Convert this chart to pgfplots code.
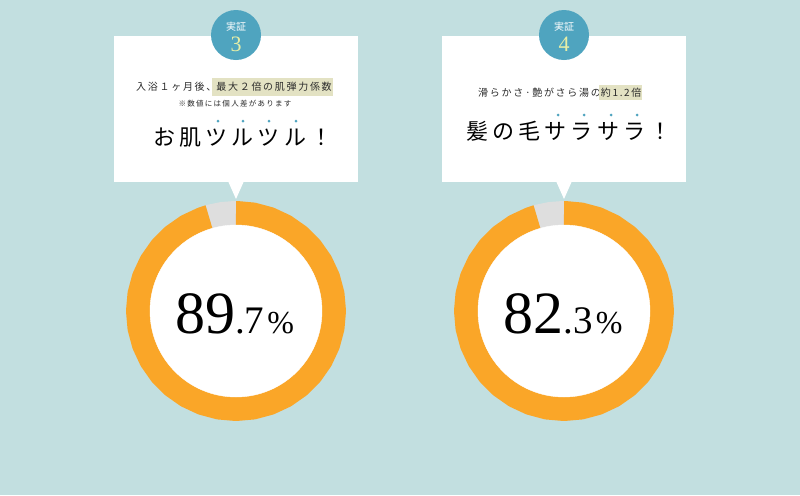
\documentclass[border=0pt]{standalone}
\usepackage{pgfplots}
\pgfplotsset{compat=1.18}
\usepgfplotslibrary{polar}
\usepackage{fontspec}
\setmainfont{Liberation Serif}
\newfontfamily\jp{Noto Sans CJK JP}
\newfontfamily\jpA[LetterSpace=17]{Noto Sans CJK JP}
\newfontfamily\jpB[LetterSpace=19]{Noto Sans CJK JP}
\newfontfamily\num{Liberation Serif}
\definecolor{bgc}{HTML}{C2DFE0}
\definecolor{ring}{HTML}{FAA628}
\definecolor{gap}{HTML}{DEDEDE}
\definecolor{badge}{HTML}{4FA4BF}
\definecolor{hl}{HTML}{E3E2C3}
\definecolor{txt}{HTML}{2B2B2B}
\definecolor{digit}{HTML}{E6EEA6}
\newcommand\hlA[1]{{\setlength\fboxsep{0pt}\kern-4pt\colorbox{hl}{\rule[-5pt]{0pt}{18pt}\hspace{4pt}#1\hspace{1pt}}}}
\newcommand\hlB[1]{{\setlength\fboxsep{0pt}\kern-1.5pt\colorbox{hl}{\rule[-3.5pt]{0pt}{15pt}\hspace{1.5pt}#1\hspace{1pt}}}}
\begin{document}
\begin{tikzpicture}
\begin{axis}[name=bg, at={(0,0)}, anchor=north west, width=800pt, height=495pt, scale only axis,
  xmin=0, xmax=800, ymin=0, ymax=495, y dir=reverse, hide axis, clip=false]
\fill[bgc] (axis cs:0,0) rectangle (axis cs:800,495);
% callout boxes
\fill[white] (axis cs:114,36) rectangle (axis cs:358,182);
\fill[white] (axis cs:228,181) -- (axis cs:244,181) -- (axis cs:236,199) -- cycle;
\fill[white] (axis cs:442,36) rectangle (axis cs:686,182);
\fill[white] (axis cs:556,181) -- (axis cs:572,181) -- (axis cs:564,199) -- cycle;
% badges
\fill[badge] (axis cs:236,35) circle[radius=25pt];
\fill[badge] (axis cs:564,35) circle[radius=25pt];
\node[text=white, inner sep=0, font=\jp\fontsize{10pt}{12pt}\selectfont] at (axis cs:236,27) {実証};
\node[text=digit, inner sep=0, font=\num\fontsize{22pt}{22pt}\selectfont] at (axis cs:236,44) {3};
\node[text=white, inner sep=0, font=\jp\fontsize{10pt}{12pt}\selectfont] at (axis cs:564,27) {実証};
\node[text=digit, inner sep=0, font=\num\fontsize{22pt}{22pt}\selectfont] at (axis cs:564,44) {4};
% left texts
\node[anchor=west, inner sep=0, text=txt, font=\jpA\fontsize{10pt}{12pt}\selectfont] at (axis cs:136,86.5) {入浴１ヶ月後、\hlA{最大２倍の肌弾力係数}};
\node[inner sep=0, text=txt, font=\jpA\fontsize{7.5pt}{9pt}\selectfont] at (axis cs:235,103.5) {※数値には個人差があります};
\fill[badge] (axis cs:218,121) circle[radius=1.5pt];
\fill[badge] (axis cs:243,121) circle[radius=1.5pt];
\fill[badge] (axis cs:269,121) circle[radius=1.5pt];
\fill[badge] (axis cs:296,121) circle[radius=1.5pt];
\node[anchor=west, inner sep=0, text=black, font=\jpB\fontsize{22pt}{24pt}\selectfont] at (axis cs:153,138) {お肌ツルツル！};
% right texts
\node[anchor=west, inner sep=0, text=txt, font=\jpA\fontsize{10pt}{12pt}\selectfont] at (axis cs:478,92) {滑らかさ·艶がさら湯の\hlB{約1.2倍}};
\fill[badge] (axis cs:558,115) circle[radius=1.5pt];
\fill[badge] (axis cs:584,115) circle[radius=1.5pt];
\fill[badge] (axis cs:611,115) circle[radius=1.5pt];
\fill[badge] (axis cs:637,115) circle[radius=1.5pt];
\node[anchor=west, inner sep=0, text=black, font=\jpB\fontsize{22pt}{24pt}\selectfont] at (axis cs:466,131) {髪の毛サラサラ！};
\end{axis}

% left donut
\begin{polaraxis}[at={(236pt,-311pt)}, anchor=center, scale only axis, width=220pt, height=220pt,
  xmin=0, xmax=360, ymin=0, ymax=110, hide axis, clip=false]
\addplot[white, only marks, mark=*, mark size=86pt, mark options={draw=white, fill=white}] coordinates {(0,0)};
\addplot[gap, line width=25pt, line cap=butt, line join=round, no marks] coordinates {(90,97.5) (90.5,97.5) (98,97.5) (105.5,97.5) (106,97.5)};
\addplot[ring, line width=25pt, line cap=butt, line join=round, no marks] coordinates {
(90,97.5) (89.5,97.5) (80,97.5) (70,97.5) (60,97.5) (50,97.5) (40,97.5) (30,97.5) (20,97.5) (10,97.5) (0,97.5)
(-10,97.5) (-20,97.5) (-30,97.5) (-40,97.5) (-50,97.5) (-60,97.5) (-70,97.5) (-80,97.5) (-90,97.5)
(-100,97.5) (-110,97.5) (-120,97.5) (-130,97.5) (-140,97.5) (-150,97.5) (-160,97.5) (-170,97.5) (-180,97.5)
(-190,97.5) (-200,97.5) (-210,97.5) (-220,97.5) (-230,97.5) (-240,97.5) (-250,97.5) (-253.5,97.5) (-254,97.5)};
\end{polaraxis}

% right donut
\begin{polaraxis}[at={(564pt,-311pt)}, anchor=center, scale only axis, width=220pt, height=220pt,
  xmin=0, xmax=360, ymin=0, ymax=110, hide axis, clip=false]
\addplot[white, only marks, mark=*, mark size=86pt, mark options={draw=white, fill=white}] coordinates {(0,0)};
\addplot[gap, line width=25pt, line cap=butt, line join=round, no marks] coordinates {(90,97.5) (90.5,97.5) (98,97.5) (105.5,97.5) (106,97.5)};
\addplot[ring, line width=25pt, line cap=butt, line join=round, no marks] coordinates {
(90,97.5) (89.5,97.5) (80,97.5) (70,97.5) (60,97.5) (50,97.5) (40,97.5) (30,97.5) (20,97.5) (10,97.5) (0,97.5)
(-10,97.5) (-20,97.5) (-30,97.5) (-40,97.5) (-50,97.5) (-60,97.5) (-70,97.5) (-80,97.5) (-90,97.5)
(-100,97.5) (-110,97.5) (-120,97.5) (-130,97.5) (-140,97.5) (-150,97.5) (-160,97.5) (-170,97.5) (-180,97.5)
(-190,97.5) (-200,97.5) (-210,97.5) (-220,97.5) (-230,97.5) (-240,97.5) (-250,97.5) (-253.5,97.5) (-254,97.5)};
\end{polaraxis}

% centre values
\node[anchor=base, inner sep=0, text=black] at (234.5pt,-333pt) {\num\fontsize{60pt}{60pt}\selectfont 89\fontsize{39pt}{39pt}\selectfont .7\hspace{3pt}\fontsize{32pt}{32pt}\selectfont\%};
\node[anchor=base, inner sep=0, text=black] at (563pt,-333pt) {\num\fontsize{60pt}{60pt}\selectfont 82\fontsize{39pt}{39pt}\selectfont .3\hspace{3pt}\fontsize{32pt}{32pt}\selectfont\%};
\end{tikzpicture}
\end{document}
